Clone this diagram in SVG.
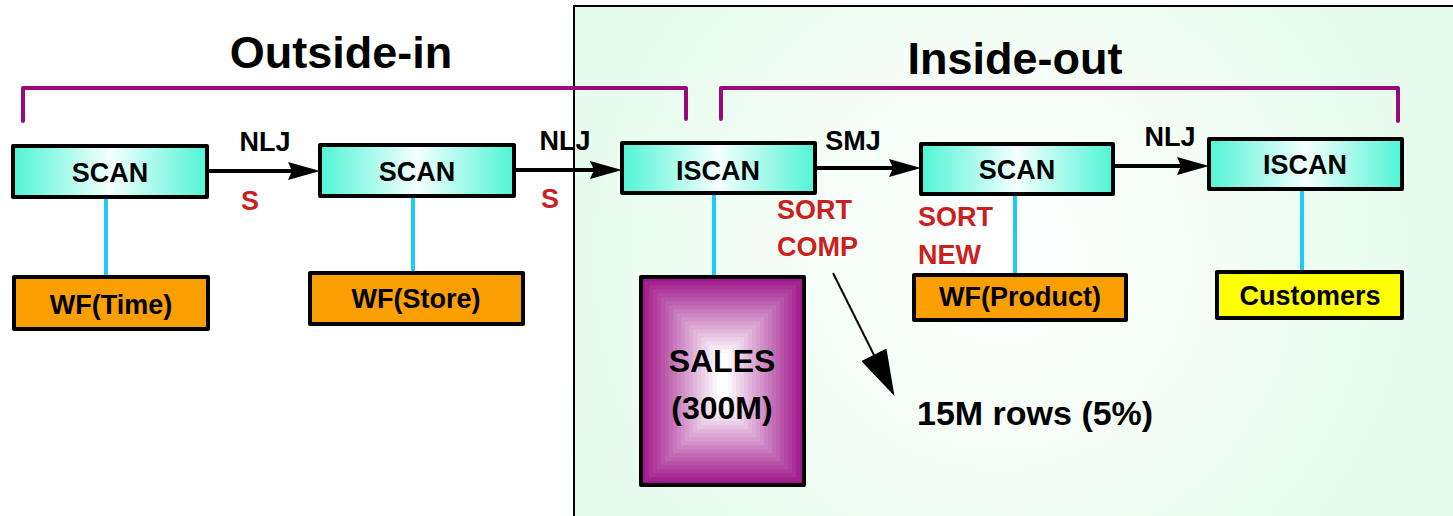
<svg xmlns="http://www.w3.org/2000/svg" width="1453" height="516" viewBox="0 0 1453 516">
<defs>
<linearGradient id="aqua" x1="0" y1="0" x2="1" y2="0">
<stop offset="0" stop-color="#4ff5d5"/>
<stop offset="0.5" stop-color="#f4fffd"/>
<stop offset="1" stop-color="#4ff5d5"/>
</linearGradient>
<radialGradient id="panelg" gradientUnits="userSpaceOnUse" cx="1000" cy="260" r="560">
<stop offset="0" stop-color="#ffffff"/>
<stop offset="1" stop-color="#e0fbe8"/>
</radialGradient>
<marker id="ah" markerUnits="userSpaceOnUse" markerWidth="32" markerHeight="18" refX="22" refY="9" orient="auto">
<path d="M0,0 L32,9 L0,18 L4,9 z" fill="#000"/>
</marker>
<marker id="ah2" markerUnits="userSpaceOnUse" markerWidth="46" markerHeight="28" refX="36" refY="14" orient="auto">
<path d="M0,0 L46,14 L0,28 z" fill="#000"/>
</marker>
<style>
.t{font-family:"Liberation Sans",Arial,sans-serif;font-weight:bold;fill:#000;text-anchor:middle}
.title{font-size:45px}
.nt{font-size:27px}
.lbl{font-size:27px}
.red{font-family:"Liberation Sans",Arial,sans-serif;font-weight:bold;fill:#cc1f1f;font-size:27px}
.op{fill:url(#aqua);stroke:#000;stroke-width:4;stroke-linejoin:round}
.wf{fill:#f99f00;stroke:#000;stroke-width:4;stroke-linejoin:round}
.cust{fill:#ffff00;stroke:#000;stroke-width:4;stroke-linejoin:round}
.cy{stroke:#1fcbf4;stroke-width:4}
.br{fill:none;stroke:#990a80;stroke-width:4;stroke-linecap:round;stroke-linejoin:round}
.ed{stroke:#000;stroke-width:4;marker-end:url(#ah)}
</style>
</defs>
<rect x="0" y="0" width="1453" height="516" fill="#fff"/>
<rect id="panel" x="574" y="6" width="890" height="520" fill="url(#panelg)" stroke="#000" stroke-width="2"/>
<g id="titles">
<text class="t title" x="341" y="68">Outside-in</text>
<text class="t title" x="1015" y="74">Inside-out</text>
</g>
<g id="brackets">
<path class="br" d="M23,121 V88 H686 V119"/>
<path class="br" d="M721,119 V88 H1398 V121"/>
</g>
<g id="connectors">
<line class="cy" x1="106" y1="197" x2="106" y2="277"/>
<line class="cy" x1="413" y1="196" x2="413" y2="273"/>
<line class="cy" x1="714" y1="193" x2="714" y2="277"/>
<line class="cy" x1="1015" y1="194" x2="1015" y2="276"/>
<line class="cy" x1="1302" y1="189" x2="1302" y2="272"/>
<line class="ed" x1="207" y1="171" x2="310" y2="171"/>
<line class="ed" x1="514" y1="170" x2="612" y2="170"/>
<line class="ed" x1="815" y1="168" x2="911" y2="168"/>
<line class="ed" x1="1113" y1="166" x2="1199" y2="166"/>
<line x1="833" y1="273" x2="890" y2="387" stroke="#000" stroke-width="2" marker-end="url(#ah2)"/>
<text class="t lbl" x="265" y="151">NLJ</text>
<text class="red" x="250" y="210" text-anchor="middle">S</text>
<text class="t lbl" x="565" y="150">NLJ</text>
<text class="red" x="550" y="208" text-anchor="middle">S</text>
<text class="t lbl" x="853" y="150">SMJ</text>
<text class="red" x="777" y="219">SORT</text>
<text class="red" x="777" y="256">COMP</text>
<text class="red" x="918" y="226">SORT</text>
<text class="red" x="918" y="264">NEW</text>
<text class="t lbl" x="1170" y="146">NLJ</text>
</g>
<g id="n1"><rect class="op" x="13" y="146" width="194" height="51"/><text class="t nt" x="110" y="182">SCAN</text></g>
<g id="n2"><rect class="op" x="320" y="145" width="194" height="51"/><text class="t nt" x="417" y="181">SCAN</text></g>
<g id="n3"><rect class="op" x="622" y="143" width="193" height="50"/><text class="t nt" x="718" y="180">ISCAN</text></g>
<g id="n4"><rect class="op" x="921" y="144" width="192" height="50"/><text class="t nt" x="1017" y="179">SCAN</text></g>
<g id="n5"><rect class="op" x="1209" y="139" width="193" height="50"/><text class="t nt" x="1305" y="174">ISCAN</text></g>
<g id="wfTime"><rect class="wf" x="14" y="277" width="194" height="52"/><text class="t nt" x="111" y="314">WF(Time)</text></g>
<g id="wfStore"><rect class="wf" x="310" y="273" width="213" height="51"/><text class="t nt" x="416" y="308">WF(Store)</text></g>
<g id="wfProduct"><rect class="wf" x="914" y="275" width="212" height="45"/><text class="t nt" x="1020" y="306">WF(Product)</text></g>
<g id="customers"><rect class="cust" x="1217" y="272" width="185" height="46"/><text class="t nt" x="1310" y="305">Customers</text></g>
<g id="sales">
<rect x="641" y="277" width="163" height="208" fill="#a0168b"/>
<rect x="645" y="281" width="155" height="200" fill="#a52291"/>
<rect x="649" y="285" width="147" height="192" fill="#aa2f97"/>
<rect x="653" y="289" width="139" height="184" fill="#af3b9d"/>
<rect x="657" y="293" width="131" height="176" fill="#b447a3"/>
<rect x="661" y="297" width="123" height="168" fill="#b953aa"/>
<rect x="665" y="301" width="115" height="160" fill="#be60b0"/>
<rect x="669" y="305" width="107" height="152" fill="#c36cb6"/>
<rect x="673" y="309" width="99" height="144" fill="#c878bc"/>
<rect x="677" y="313" width="91" height="136" fill="#cd84c2"/>
<rect x="681" y="317" width="83" height="128" fill="#d291c8"/>
<rect x="685" y="321" width="75" height="120" fill="#d79dce"/>
<rect x="689" y="325" width="67" height="112" fill="#dca9d4"/>
<rect x="693" y="329" width="59" height="104" fill="#e1b5da"/>
<rect x="697" y="333" width="51" height="96" fill="#e6c2e0"/>
<rect x="701" y="337" width="43" height="88" fill="#ebcee7"/>
<rect x="705" y="341" width="35" height="80" fill="#f0daed"/>
<rect x="709" y="345" width="27" height="72" fill="#f5e6f3"/>
<rect x="713" y="349" width="19" height="64" fill="#faf3f9"/>
<rect x="717" y="353" width="11" height="56" fill="#ffffff"/>
<rect x="641" y="277" width="163" height="208" fill="none" stroke="#000" stroke-width="4" stroke-linejoin="round"/>
<text class="t" style="font-size:32px" x="722" y="372">SALES</text>
<text class="t" style="font-size:32px" x="722" y="419">(300M)</text>
</g>
<g id="note"><text class="t" style="font-size:34px;text-anchor:start" x="917" y="425">15M rows (5%)</text></g>
</svg>
